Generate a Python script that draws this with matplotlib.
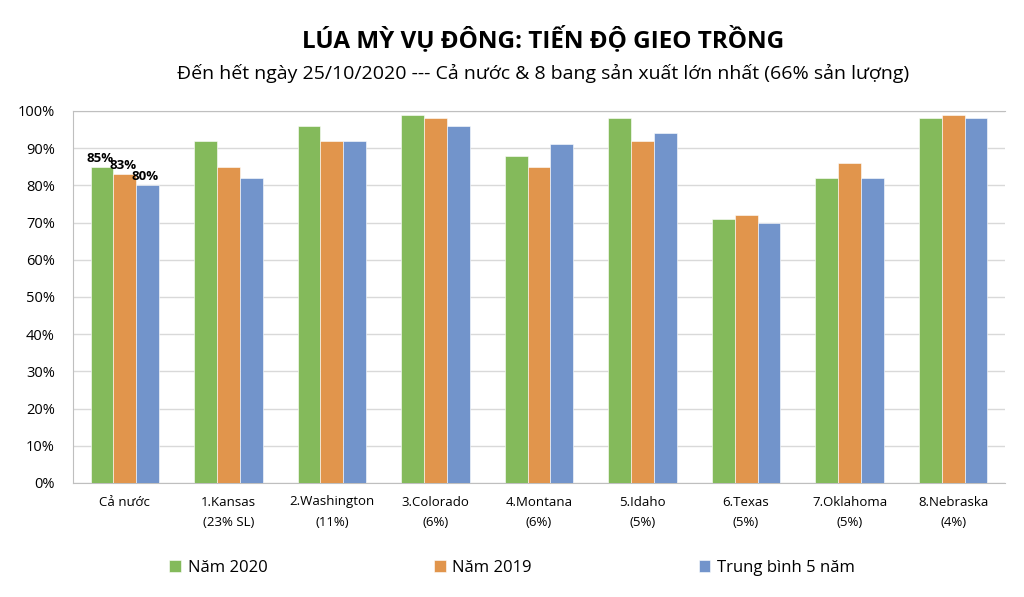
import numpy as np
import matplotlib
matplotlib.use("Agg")
import matplotlib.pyplot as plt
from matplotlib.ticker import PercentFormatter, MultipleLocator

plt.rcParams['font.family'] = ['Open Sans', 'DejaVu Sans']

# data
categories = ["Cả nước", "1.Kansas\n(23% SL)", "2.Washington\n(11%)", "3.Colorado\n(6%)",
              "4.Montana\n(6%)", "5.Idaho\n(5%)", "6.Texas\n(5%)", "7.Oklahoma\n(5%)",
              "8.Nebraska\n(4%)"]
nam_2020 = [85, 92, 96, 99, 88, 98, 71, 82, 98]
nam_2019 = [83, 85, 92, 98, 85, 92, 72, 86, 99]
tb_5_nam = [80, 82, 92, 96, 91, 94, 70, 82, 98]
series_names = ["Năm 2020", "Năm 2019", "Trung bình 5 năm"]
colors = ["#84BA5B", "#E1954C", "#7294CB"]

fig = plt.figure(figsize=(10.24, 5.97), dpi=100)
ax = fig.add_axes([73 / 1024, 1 - 483 / 597, 932 / 1024, 372 / 597])

x = np.arange(len(categories))
w = 0.22
handles = []
for i, (vals, name, c) in enumerate(zip([nam_2020, nam_2019, tb_5_nam], series_names, colors)):
    b = ax.bar(x + (i - 1) * w, vals, w, color=c, edgecolor="white", linewidth=0.4,
               label=name, zorder=3)
    handles.append(b)
    # labels only on the national group
    ax.text(x[0] + (i - 1) * w - 0.02, vals[0] + 0.6, f"{vals[0]}%", ha="center", va="bottom",
            fontsize=9.5, fontweight="bold", zorder=4)

ax.set_xlim(-0.5, len(categories) - 0.5)
ax.set_ylim(0, 100)
ax.yaxis.set_major_locator(MultipleLocator(10))
ax.yaxis.set_major_formatter(PercentFormatter(decimals=0))
ax.grid(axis="y", color="#D9D9D9", linewidth=1, zorder=0)
ax.set_xticks(x)
ax.set_xticklabels(categories, fontsize=9.5, linespacing=1.7)
ax.tick_params(axis="x", length=0, pad=9)
ax.tick_params(axis="y", length=0, pad=13, labelsize=10.5)
for s in ["left", "bottom", "top"]:
    ax.spines[s].set_color("#BFBFBF")
ax.spines["right"].set_visible(False)

fig.text(543 / 1024, 1 - 40 / 597, "LÚA MỲ VỤ ĐÔNG: TIẾN ĐỘ GIEO TRỒNG", ha="center", va="center",
         fontsize=17.5, fontweight="bold")
fig.text(543 / 1024, 1 - 73 / 597,
         "Đến hết ngày 25/10/2020 --- Cả nước & 8 bang sản xuất lớn nhất (66% sản lượng)",
         ha="center", va="center", fontsize=14)

fig.legend(handles=handles, loc="center", bbox_to_anchor=(0.5, 1 - 568 / 597), ncol=3,
           frameon=False, fontsize=12, handlelength=0.7, handleheight=0.7,
           handletextpad=0.4, columnspacing=10.0)

fig.savefig("out.png", dpi=100, facecolor="white")
